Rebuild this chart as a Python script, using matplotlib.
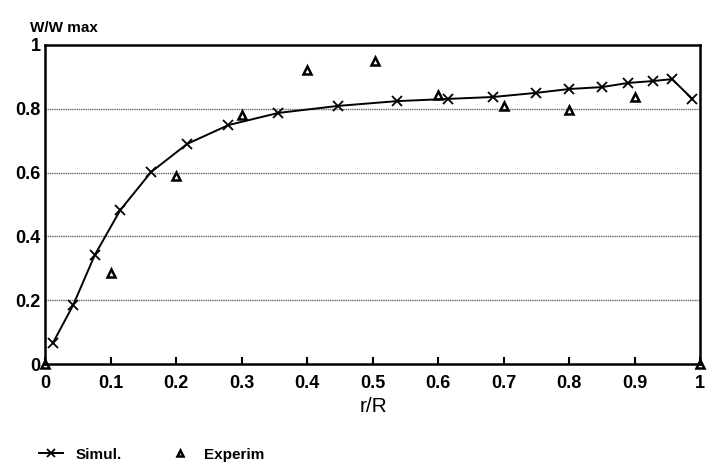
import matplotlib.pyplot as plt

# Simulated profile (crosses joined by a line)
simul_x = [0.012, 0.043, 0.076, 0.115, 0.162, 0.217, 0.28, 0.356, 0.447, 0.537,
           0.615, 0.684, 0.75, 0.80, 0.85, 0.89, 0.928, 0.957, 0.988]
simul_y = [0.066, 0.185, 0.342, 0.483, 0.602, 0.69, 0.749, 0.787, 0.809, 0.824,
           0.831, 0.837, 0.85, 0.862, 0.868, 0.881, 0.887, 0.893, 0.831]

# Experimental points (triangles)
exp_x = [0.0, 0.1, 0.2, 0.3, 0.4, 0.504, 0.6, 0.7, 0.8, 0.9, 1.0]
exp_y = [0.0, 0.285, 0.59, 0.78, 0.922, 0.95, 0.843, 0.809, 0.796, 0.837, 0.0]

x_ticks = [0, 0.1, 0.2, 0.3, 0.4, 0.5, 0.6, 0.7, 0.8, 0.9, 1]
x_labels = ["0", "0.1", "0.2", "0.3", "0.4", "0.5", "0.6", "0.7", "0.8", "0.9", "1"]
y_ticks = [0, 0.2, 0.4, 0.6, 0.8, 1]
y_labels = ["0", "0.2", "0.4", "0.6", "0.8", "1"]

plt.rcParams["font.family"] = ["Liberation Sans", "DejaVu Sans"]

fig = plt.figure(figsize=(7.08, 4.73), dpi=100)
ax = fig.add_axes([0.0636, 0.2304, 0.9254, 0.6745])

line, = ax.plot(simul_x, simul_y, color="black", lw=1.4, marker="x",
                markersize=7, markeredgewidth=1.3, label="Simul.", clip_on=False)
pts, = ax.plot(exp_x, exp_y, ls="none", marker="^", markersize=6,
               markerfacecolor="none", markeredgecolor="black",
               markeredgewidth=1.8, label="Experim", clip_on=False, zorder=5)

ax.set_xlim(0, 1)
ax.set_ylim(0, 1)
ax.set_xticks(x_ticks)
ax.set_xticklabels(x_labels, fontsize=13, fontweight="bold")
ax.set_yticks(y_ticks)
ax.set_yticklabels(y_labels, fontsize=13, fontweight="bold")
ax.tick_params(axis="x", direction="in", length=5, width=1.5, pad=8)
ax.tick_params(axis="y", length=0, pad=3)

for y in [0.2, 0.4, 0.6, 0.8]:
    ax.axhline(y, color="#666666", lw=1.0, ls=(0, (1, 0.6)), zorder=0)

for s in ax.spines.values():
    s.set_linewidth(1.8)

fig.text(0.042, 0.925, "W/W max", fontsize=11, fontweight="bold", ha="left", va="bottom")
fig.text(0.528, 0.14, "r/R", fontsize=15, ha="center", va="center")

fig.legend(handles=[line, pts], loc="lower left", bbox_to_anchor=(0.035, -0.005),
           ncol=2, frameon=False, handlelength=1.6,
           columnspacing=3.0, prop={"weight": "bold", "size": 11},
           markerscale=0.8)

plt.savefig("out.png", dpi=100)
